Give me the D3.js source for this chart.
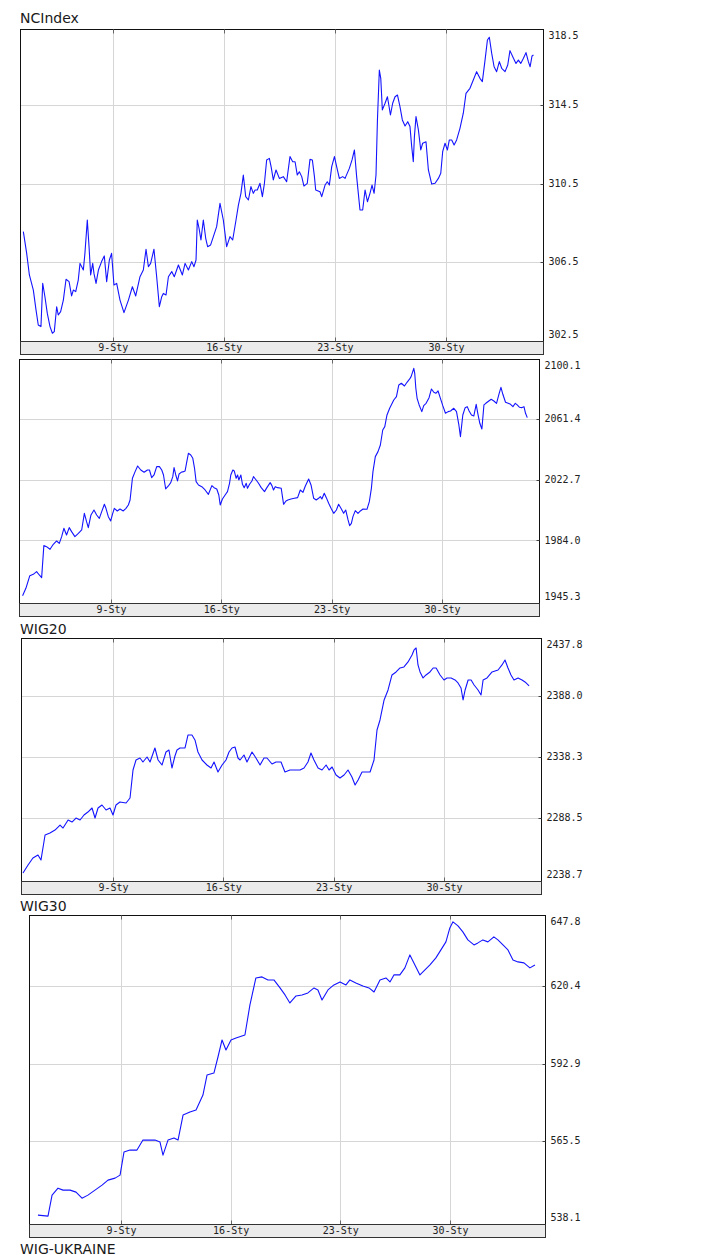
<!DOCTYPE html>
<html><head><meta charset="utf-8">
<script src="https://cdn.jsdelivr.net/npm/d3@7"></script>
<style>
body{margin:0;background:#fff;}
svg{display:block;}
</style></head><body>
<svg id="c" width="709" height="1255"></svg>
<script>
// ---------- data ----------
const dateTicks = [9, 16, 23, 30];              // day of January
const dateLabels = ["9-Sty", "16-Sty", "23-Sty", "30-Sty"];
const chartTitles = ["NCIndex", "", "WIG20", "WIG30"];
const footerTitle = "WIG-UKRAINE";

const ncTicks = [302.5, 306.5, 310.5, 314.5, 318.5];
const wigTicks = [1945.3, 1984.0, 2022.7, 2061.4, 2100.1];
const wig20Ticks = [2238.7, 2288.5, 2338.3, 2388.0, 2437.8];
const wig30Ticks = [538.1, 565.5, 592.9, 620.4, 647.8];

const ncDay = [3.37,3.58,3.75,4.00,4.17,4.31,4.48,4.59,4.73,4.88,5.05,5.20,5.32,5.47,5.57,5.72,5.89,6.06,6.25,6.41,6.52,6.67,6.83,6.94,7.15,7.25,7.40,7.51,7.61,7.74,7.82,7.95,8.10,8.30,8.47,8.62,8.79,8.93,9.08,9.25,9.46,9.71,9.99,10.24,10.45,10.72,10.93,11.10,11.25,11.39,11.60,11.77,11.94,12.09,12.19,12.36,12.51,12.72,12.88,13.14,13.39,13.56,13.77,13.98,14.12,14.25,14.33,14.44,14.56,14.71,14.86,14.98,15.17,15.55,15.76,15.97,16.18,16.39,16.56,16.77,16.92,17.08,17.23,17.38,17.55,17.71,17.86,17.97,18.11,18.28,18.43,18.56,18.70,18.87,
18.98,19.12,19.29,19.50,19.75,19.96,20.17,20.34,20.49,20.63,20.76,20.91,21.05,21.26,21.43,21.58,21.71,21.79,22.06,22.17,22.38,22.52,22.65,22.80,22.97,23.11,23.28,23.49,23.64,23.91,24.08,24.23,24.37,24.58,24.75,24.90,25.05,25.21,25.34,25.47,25.59,25.68,25.80,25.89,25.99,26.16,26.31,26.50,26.64,26.79,26.94,27.10,27.25,27.42,27.59,27.73,27.84,27.94,28.01,28.11,28.26,28.41,28.53,28.74,28.89,29.10,29.31,29.52,29.67,29.79,29.94,30.09,30.21,30.36,30.51,30.67,30.88,31.09,31.26,31.51,31.72,31.93,32.14,32.29,32.46,32.61,32.73,32.88,33.03,33.19,33.36,33.51,33.72,33.89,34.03,34.25,34.41,34.56,34.71,34.88,35.04,35.19,35.30,35.42,35.51];
const ncVal = [308.05,306.94,305.84,305.07,304.05,303.29,303.21,305.41,304.73,303.88,303.21,302.87,302.95,304.22,303.80,303.97,304.56,305.62,305.50,304.77,305.07,304.99,305.58,306.43,306.09,306.94,308.64,307.28,305.84,306.43,305.92,305.41,306.09,306.52,306.81,305.50,306.60,306.94,305.33,305.41,304.56,303.92,304.56,305.24,304.77,305.75,306.09,307.15,306.26,306.43,307.15,305.75,304.22,304.73,304.90,304.82,305.75,306.01,305.75,306.35,305.84,306.43,306.09,306.52,306.26,306.60,308.64,308.22,307.62,308.64,307.71,307.28,307.37,308.30,309.49,308.64,307.28,307.79,307.62,308.64,309.40,310.00,310.93,309.83,309.66,310.34,310.00,310.17,310.17,310.51,309.83,310.51,311.70,311.78,
311.36,310.68,311.19,310.76,310.85,310.59,311.87,311.61,311.61,310.93,311.10,310.85,310.37,310.51,311.73,311.70,310.85,310.17,310.08,309.83,310.42,310.59,310.42,311.36,311.87,311.36,310.76,310.85,310.76,311.27,311.70,312.21,310.85,309.15,309.15,310.17,309.57,310.00,310.42,310.00,310.93,313.74,316.28,315.86,314.25,314.59,314.92,313.99,314.59,314.92,315.01,314.42,313.74,313.43,313.65,313.40,312.38,311.61,312.89,313.91,313.23,312.21,312.55,312.63,311.19,310.47,310.51,310.76,311.02,312.12,312.55,312.21,312.72,312.72,312.46,312.72,313.31,314.08,315.09,315.35,315.77,316.20,315.86,315.69,316.79,317.81,317.95,317.13,316.45,316.20,316.71,316.37,316.20,316.54,317.27,316.88,316.62,316.79,316.62,316.88,317.17,316.71,316.45,317.00,317.05];

const wigDay = [3.39,3.60,3.85,4.07,4.28,4.45,4.60,4.74,4.91,5.13,
5.34,5.55,5.72,5.87,6.01,6.18,6.35,6.50,6.71,6.93,
7.14,7.31,7.45,7.56,7.73,7.92,8.09,8.26,8.41,8.58,
8.68,8.83,8.98,9.11,9.21,9.40,9.57,9.78,9.95,10.10,
10.21,10.36,10.53,10.69,10.89,11.10,11.31,11.44,11.58,11.73,
11.90,12.07,12.22,12.33,12.47,12.64,12.79,12.92,13.00,13.11,
13.22,13.32,13.45,13.60,13.70,13.81,13.91,14.06,14.19,14.30,
14.40,14.55,14.76,14.97,15.18,15.40,15.54,15.71,15.84,15.93,
16.07,16.24,16.39,16.52,16.60,16.73,16.82,16.94,17.03,17.11,
17.24,17.34,17.45,17.58,17.66,17.79,17.94,18.04,18.21,18.36,
18.53,18.74,18.89,19.10,19.21,19.31,19.42,19.57,19.80,19.95,
20.10,20.22,20.42,20.63,20.84,21.01,21.18,21.33,21.54,21.69,
21.86,22.02,22.17,22.28,22.38,22.53,22.66,22.81,22.96,23.13,
23.30,23.44,23.59,23.76,23.89,24.04,24.14,24.25,24.35,24.50,
24.67,24.82,24.99,25.24,25.39,25.52,25.62,25.77,25.94,26.09,
26.24,26.37,26.51,26.68,26.94,27.11,27.26,27.42,27.62,27.78,
27.95,28.04,28.21,28.27,28.34,28.42,28.55,28.72,28.84,28.99,
29.18,29.33,29.48,29.61,29.75,29.90,30.05,30.22,30.39,30.54,
30.75,30.92,31.07,31.17,31.32,31.47,31.60,31.72,31.87,32.02,
32.17,32.27,32.40,32.53,32.66,32.78,32.97,33.12,33.29,33.46,
33.61,33.74,33.86,34.03,34.20,34.35,34.50,34.65,34.77,34.92,
35.05,35.20,35.30,35.41];
const wigVal = [1948.71,1953.39,1961.47,1962.32,1964.02,1961.89,1960.19,1980.61,1979.97,1978.27,
1981.46,1983.58,1982.09,1986.35,1991.66,1987.41,1992.09,1989.54,1986.35,1988.47,
1990.60,2001.23,1995.91,1992.09,2000.17,2003.36,2000.17,1998.04,2002.29,2006.97,
2004.42,1999.10,1996.34,2001.23,2004.42,2002.72,2003.99,2002.72,2004.42,2006.55,
2009.74,2023.56,2027.81,2031.42,2028.87,2027.38,2028.87,2028.87,2023.98,2025.68,
2031.00,2031.00,2028.87,2025.68,2016.75,2018.67,2020.79,2024.62,2030.36,2025.68,
2021.86,2026.32,2027.38,2027.81,2028.24,2034.19,2039.50,2038.44,2036.31,2029.94,
2021.43,2019.30,2018.24,2016.11,2013.35,2018.88,2017.60,2016.75,2012.93,2006.55,
2010.37,2012.93,2015.05,2020.37,2025.68,2028.87,2028.24,2023.56,2025.68,2022.49,
2025.68,2019.73,2017.60,2020.37,2017.18,2019.73,2021.86,2024.62,2022.49,2020.37,
2017.60,2015.05,2017.60,2020.79,2018.88,2016.11,2018.24,2017.60,2017.18,2006.97,
2009.10,2009.74,2010.37,2010.80,2011.22,2016.11,2014.63,2018.67,2023.13,2019.30,
2010.80,2009.74,2010.80,2011.86,2010.37,2013.99,2011.22,2007.61,2004.42,2001.23,
2003.36,2006.97,2004.42,2001.23,2003.36,1996.98,1993.36,1994.85,1999.10,2002.93,
2001.23,2002.72,2003.99,2003.78,2008.67,2017.18,2027.81,2037.38,2040.57,2044.82,
2054.39,2056.51,2063.96,2068.21,2073.52,2075.65,2083.09,2084.16,2082.46,2084.79,
2086.92,2088.41,2093.72,2090.54,2080.97,2074.59,2070.34,2066.08,2069.91,2071.40,
2075.01,2080.54,2078.42,2077.78,2079.27,2074.59,2069.91,2065.02,2066.08,2066.51,
2068.21,2066.08,2057.58,2050.14,2063.96,2068.63,2069.27,2066.51,2063.96,2063.32,
2070.76,2065.02,2058.64,2055.03,2070.34,2071.40,2072.89,2073.95,2072.89,2071.40,
2077.14,2081.60,2077.14,2072.04,2071.40,2070.76,2069.27,2071.40,2070.34,2068.85,
2068.63,2069.27,2065.02,2062.26];

const wig20Day = [3.29,3.61,3.92,4.24,4.43,4.69,5.00,5.32,5.64,5.83,
6.15,6.40,6.65,6.91,7.16,7.41,7.67,7.86,8.05,8.30,
8.56,8.81,9.00,9.19,9.44,9.83,10.08,10.27,10.46,10.71,
10.90,11.16,11.35,11.66,11.86,12.11,12.36,12.55,12.74,12.93,
13.06,13.25,13.57,13.76,14.01,14.20,14.39,14.65,14.96,15.22,
15.41,15.66,15.92,16.17,16.36,16.55,16.74,16.93,17.06,17.31,
17.50,17.82,18.07,18.33,18.58,18.77,19.09,19.34,19.66,19.91,
20.23,20.55,20.87,21.12,21.37,21.56,21.75,22.01,22.26,22.52,
22.71,22.90,23.15,23.40,23.66,23.91,24.16,24.36,24.55,24.80,
25.05,25.31,25.56,25.75,25.94,26.20,26.45,26.70,26.96,27.21,
27.46,27.72,27.97,28.10,28.23,28.35,28.48,28.67,28.86,29.11,
29.31,29.50,29.75,30.00,30.19,30.45,30.70,30.89,31.08,31.21,
31.34,31.53,31.72,31.91,32.16,32.35,32.48,32.73,33.05,33.43,
33.68,33.87,34.06,34.25,34.44,34.70,34.95,35.14,35.40];
const wig20Val = [2243.64,2250.17,2255.88,2258.33,2254.24,2274.63,2276.27,2278.71,2282.79,2280.34,
2286.87,2285.24,2288.50,2286.87,2290.95,2293.39,2296.66,2288.50,2296.66,2299.10,
2295.02,2296.66,2290.95,2299.10,2301.55,2300.73,2304.81,2327.65,2335.80,2337.44,
2334.17,2338.25,2334.17,2345.59,2335.80,2331.73,2342.33,2343.96,2329.28,2339.07,
2343.96,2345.59,2345.59,2356.19,2356.19,2352.12,2342.33,2335.80,2331.73,2329.28,
2334.17,2326.02,2331.73,2335.80,2342.33,2345.59,2346.41,2337.44,2335.80,2339.88,
2334.17,2342.33,2337.44,2331.73,2337.44,2337.44,2332.54,2334.17,2334.17,2326.02,
2327.65,2327.65,2327.65,2329.28,2334.17,2341.51,2335.80,2329.28,2327.65,2331.73,
2327.65,2330.09,2323.57,2321.12,2323.57,2327.65,2321.94,2315.41,2319.49,2326.02,
2326.02,2326.02,2335.80,2360.27,2368.43,2384.74,2392.90,2405.13,2407.58,2410.84,
2411.66,2415.73,2421.44,2425.52,2427.15,2413.29,2407.58,2402.68,2405.13,2407.58,
2410.84,2410.84,2405.13,2401.05,2402.68,2402.68,2401.05,2398.61,2394.53,2384.74,
2392.90,2401.05,2401.05,2396.97,2392.90,2388.82,2401.05,2402.68,2407.58,2409.21,
2413.29,2417.36,2410.84,2405.13,2401.05,2402.68,2401.05,2399.42,2396.16];

const wig30Day = [3.70,4.34,4.60,4.98,5.30,5.75,6.13,6.51,6.89,7.34,
7.79,8.17,8.62,8.94,9.19,9.57,10.02,10.40,10.72,11.17,
11.49,11.68,12.00,12.38,12.64,12.96,13.40,13.79,14.23,14.49,
14.93,15.19,15.45,15.70,16.02,16.34,16.91,17.23,17.61,18.00,
18.38,18.76,19.15,19.47,19.78,20.17,20.55,20.93,21.32,21.57,
21.83,22.21,22.59,22.98,23.36,23.61,23.99,24.44,24.83,25.15,
25.53,25.91,26.17,26.42,26.80,27.12,27.44,27.76,28.08,28.40,
28.72,29.10,29.42,29.74,29.99,30.19,30.51,30.82,31.14,31.53,
31.78,32.10,32.42,32.80,33.06,33.38,33.70,34.02,34.34,34.72,
35.10,35.42];
const wig30Val = [539.28,538.93,546.37,548.84,548.14,548.14,547.43,545.30,546.37,548.14,
549.91,551.68,552.39,553.45,561.60,562.31,562.31,565.85,565.85,565.85,
565.14,560.53,565.85,566.56,565.85,574.70,575.77,576.47,581.79,588.87,
589.58,595.25,601.27,597.73,601.27,601.98,603.04,613.67,623.23,623.59,
622.52,622.52,619.69,617.21,614.38,616.86,617.21,617.92,619.69,618.98,
615.44,618.98,620.75,621.82,620.75,622.52,621.46,620.40,619.69,618.27,
622.52,623.23,621.82,624.30,624.30,626.78,631.38,627.84,624.30,626.07,
627.84,630.32,633.15,635.99,640.94,643.07,641.65,639.53,636.69,634.92,
635.63,636.69,635.99,637.76,636.69,634.92,633.15,629.61,628.90,628.55,
626.78,627.84];

// ---------- layout (pixels) ----------
const panels = [
  {title: chartTitles[0], titleY: 22.5, ticks: ncTicks, days: ncDay, vals: ncVal,
   left: 20, right: 543, top: 29, bottom: 341, strip: 13, x9: 112.7, x30: 446, yLo: 340.5, yHi: 26.5},
  {title: chartTitles[1], titleY: 0, ticks: wigTicks, days: wigDay, vals: wigVal,
   left: 19, right: 539, top: 359, bottom: 603, strip: 13, x9: 111, x30: 442, yLo: 601, yHi: 358.3},
  {title: chartTitles[2], titleY: 634.3, ticks: wig20Ticks, days: wig20Day, vals: wig20Val,
   left: 21, right: 541, top: 638, bottom: 881, strip: 13, x9: 113, x30: 444, yLo: 879.1, yHi: 634.9},
  {title: chartTitles[3], titleY: 910.7, ticks: wig30Ticks, days: wig30Day, vals: wig30Val,
   left: 29, right: 545, top: 915, bottom: 1224, strip: 13, x9: 121, x30: 450, yLo: 1218.5, yHi: 908.5}
];

const svg = d3.select("#c");
const monoFont = "'DejaVu Sans Mono', 'Liberation Mono', monospace";
const titleFont = "'DejaVu Sans', Verdana, sans-serif";

panels.forEach((p, i) => {
  const g = svg.append("g");
  const x = d3.scaleLinear().domain([dateTicks[0], dateTicks[3]]).range([p.x9, p.x30]);
  const y = d3.scaleLinear().domain([p.ticks[0], p.ticks[p.ticks.length - 1]]).range([p.yLo, p.yHi]);
  const L = p.left + 0.5, R = p.right + 0.5, T = p.top + 0.5, B = p.bottom + 0.5;

  if (p.title) {
    g.append("text").attr("x", 20).attr("y", p.titleY)
      .attr("font-family", titleFont).attr("font-size", 14).attr("fill", "#1a1a1a")
      .text(p.title);
  }

  g.append("rect").attr("x", L).attr("y", T).attr("width", R - L).attr("height", B - T).attr("fill", "#fff");

  // grid
  g.append("g").selectAll("line").data(dateTicks).join("line")
    .attr("x1", d => Math.round(x(d)) + 0.5).attr("x2", d => Math.round(x(d)) + 0.5)
    .attr("y1", T).attr("y2", B).attr("stroke", "#d6d6d6").attr("stroke-width", 1);
  g.append("g").selectAll("line").data(p.ticks.slice(1, -1)).join("line")
    .attr("y1", d => Math.round(y(d)) + 0.5).attr("y2", d => Math.round(y(d)) + 0.5)
    .attr("x1", L).attr("x2", R).attr("stroke", "#d6d6d6").attr("stroke-width", 1);

  // line
  const clipId = "clip" + i;
  g.append("clipPath").attr("id", clipId).append("rect")
    .attr("x", L).attr("y", T).attr("width", R - L).attr("height", B - T);
  const pts = d3.zip(p.days, p.vals);
  g.append("path").datum(pts)
    .attr("clip-path", `url(#${clipId})`)
    .attr("fill", "none").attr("stroke", "#1414ff").attr("stroke-width", 1.1)
    .attr("stroke-linejoin", "round")
    .attr("d", d3.line().x(d => x(d[0])).y(d => y(d[1])));

  // box
  g.append("rect").attr("x", L).attr("y", T).attr("width", R - L).attr("height", B - T)
    .attr("fill", "none").attr("stroke", "#111").attr("stroke-width", 1);

  // date tick marks top & bottom
  g.append("g").selectAll("line").data(dateTicks).join("line")
    .attr("x1", d => Math.round(x(d)) + 0.5).attr("x2", d => Math.round(x(d)) + 0.5)
    .attr("y1", T).attr("y2", T + 4).attr("stroke", "#666");
  g.append("g").selectAll("line").data(dateTicks).join("line")
    .attr("x1", d => Math.round(x(d)) + 0.5).attr("x2", d => Math.round(x(d)) + 0.5)
    .attr("y1", B - 4).attr("y2", B).attr("stroke", "#666");
  // value tick marks on right edge
  g.append("g").selectAll("line").data(p.ticks.slice(1, -1)).join("line")
    .attr("y1", d => Math.round(y(d)) + 0.5).attr("y2", d => Math.round(y(d)) + 0.5)
    .attr("x1", R - 3).attr("x2", R).attr("stroke", "#444");

  // strip with date labels
  g.append("rect").attr("x", L).attr("y", B).attr("width", R - L).attr("height", p.strip)
    .attr("fill", "#ebebeb").attr("stroke", "#333").attr("stroke-width", 1);
  const xAxis = d3.axisBottom(x).tickValues(dateTicks)
    .tickFormat((d, k) => dateLabels[k]).tickSize(0).tickPadding(2);
  const xa = g.append("g").attr("transform", `translate(0,${B})`).call(xAxis);
  xa.select(".domain").remove();
  xa.selectAll("text").attr("font-family", monoFont).attr("font-size", 10).attr("fill", "#222");

  // right value labels
  const yAxis = d3.axisRight(y).tickValues(p.ticks).tickFormat(d3.format(".1f")).tickSize(0).tickPadding(5);
  const ya = g.append("g").attr("transform", `translate(${R},0)`).call(yAxis);
  ya.select(".domain").remove();
  ya.selectAll(".tick").attr("transform", d => {
    const yy = Math.max(p.top + 7, Math.min(p.bottom - 6, y(d)));
    return `translate(0,${yy})`;
  });
  ya.selectAll("text").attr("font-family", monoFont).attr("font-size", 10).attr("fill", "#222");
});

svg.append("text").attr("x", 20).attr("y", 1253.5)
  .attr("font-family", titleFont).attr("font-size", 14).attr("fill", "#1a1a1a")
  .text(footerTitle);
</script>
</body></html>
